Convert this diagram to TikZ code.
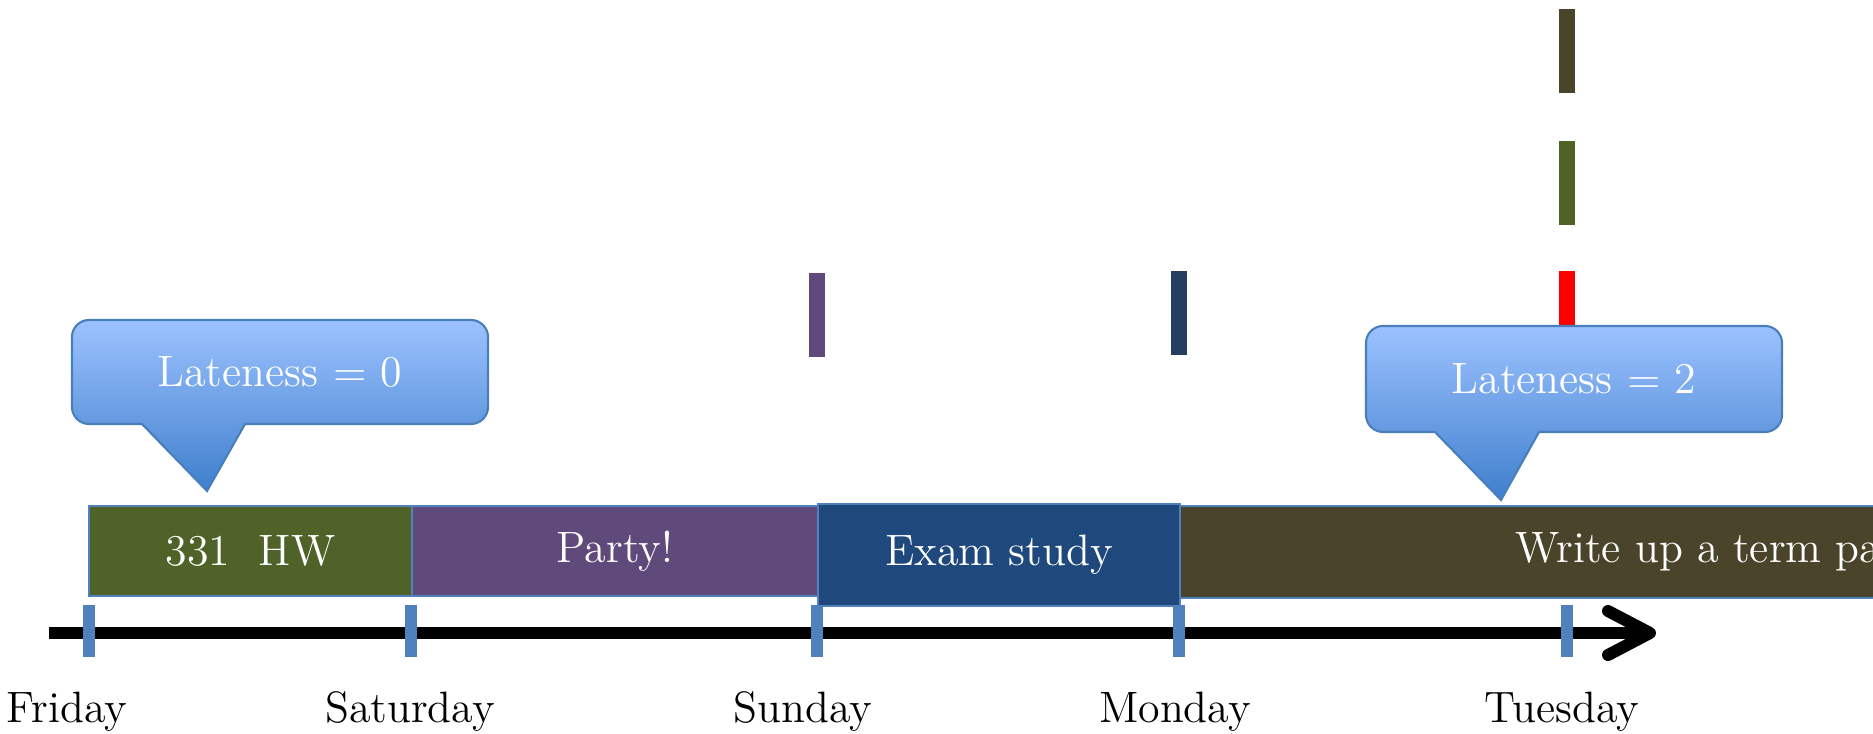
\documentclass[tikz,border=0pt]{standalone}
\usepackage{tikz}
\usetikzlibrary{arrows.meta,positioning}
\definecolor{hwgreen}{HTML}{4F6228}
\definecolor{partypurple}{HTML}{604A7B}
\definecolor{examblue}{HTML}{1F497D}
\definecolor{papertan}{HTML}{4A452A}
\definecolor{duenavy}{HTML}{243F60}
\definecolor{tickblue}{HTML}{4F81BD}
\definecolor{balloonedge}{HTML}{4A7EBB}
\definecolor{balloontop}{HTML}{9CC2FF}
\definecolor{balloonbot}{HTML}{3F7FCC}
\tikzset{
  task/.style={draw=tickblue,line width=.6pt,inner sep=0pt,outer sep=0pt,
    minimum height=9mm,text=white,font=\fontsize{12.5}{15}\selectfont},
  daytick/.style={fill=tickblue,inner sep=0pt,minimum width=1.2mm,minimum height=5.2mm},
  duemark/.style={inner sep=0pt,minimum width=1.6mm,minimum height=8.4mm},
  balloon/.style={draw=balloonedge,line width=.6pt,top color=balloontop,bottom color=balloonbot},
  balloontext/.style={text=white,font=\fontsize{12.5}{15}\selectfont},
  daylabel/.style={anchor=base,font=\fontsize{12.5}{15}\selectfont},
  timeaxis/.style={line width=1.2mm,-{Straight Barb[length=4.2mm,width=4.4mm,round]}}
}
\begin{document}
\begin{tikzpicture}[x=0.1mm,y=0.1mm]
\useasboundingbox (0,0) rectangle (1873,733);
\clip (0,0) rectangle (1873,733);

% due dates
\node[duemark,fill=papertan] (due-paper) at (1567,682) {};
\node[duemark,fill=hwgreen] (due-hw) at (1567,550) {};
\node[duemark,fill=red] (due-late) at (1567,420) {};
\node[duemark,fill=partypurple] (due-party) at (817,418) {};
\node[duemark,fill=duenavy] (due-exam) at (1179,420) {};

% time line
\coordinate (axis-start) at (49,100);
\coordinate (axis-end) at (1656,100);
\draw[timeaxis] (axis-start) -- (axis-end);
\foreach \x/\day in {89/fri,411/sat,817/sun,1179/mon,1567/tue}
  \node[daytick] (tick-\day) at (\x,102) {};

\node[daylabel] (lbl-fri) at (67,10) {Friday};
\node[daylabel] (lbl-sat) at (410,10) {Saturday};
\node[daylabel] (lbl-sun) at (803,10) {Sunday};
\node[daylabel] (lbl-mon) at (1175,10) {Monday};
\node[daylabel] (lbl-tue) at (1562,10) {Tuesday};

% tasks
\node[task,fill=hwgreen,minimum width=32.3mm] (hw) at (250.5,182) {331~~HW};
\node[task,fill=partypurple,minimum width=40.6mm] (party) at (615,182) {Party!};
\node[task,fill=papertan,minimum width=109.8mm,minimum height=9.2mm] (paper) at (1729,181) {Write up a term paper};
\node[task,fill=examblue,minimum width=36.2mm,minimum height=10.2mm,line width=.8pt] (exam) at (999,178) {Exam study};

% lateness balloons
\shadedraw[balloon] (245,309) -- (471,309) arc[start angle=-90,end angle=0,radius=1.7mm]
  -- (488,396) arc[start angle=0,end angle=90,radius=1.7mm]
  -- (89,413) arc[start angle=90,end angle=180,radius=1.7mm]
  -- (72,326) arc[start angle=180,end angle=270,radius=1.7mm]
  -- (142,309) -- (207,242) -- cycle;
\node[balloontext] (late-hw) at (280,361) {Lateness = 0};

\shadedraw[balloon] (1539,301) -- (1765,301) arc[start angle=-90,end angle=0,radius=1.7mm]
  -- (1782,390) arc[start angle=0,end angle=90,radius=1.7mm]
  -- (1383,407) arc[start angle=90,end angle=180,radius=1.7mm]
  -- (1366,318) arc[start angle=180,end angle=270,radius=1.7mm]
  -- (1435,301) -- (1501,233) -- cycle;
\node[balloontext] (late-paper) at (1574,354) {Lateness = 2};
\end{tikzpicture}
\end{document}
